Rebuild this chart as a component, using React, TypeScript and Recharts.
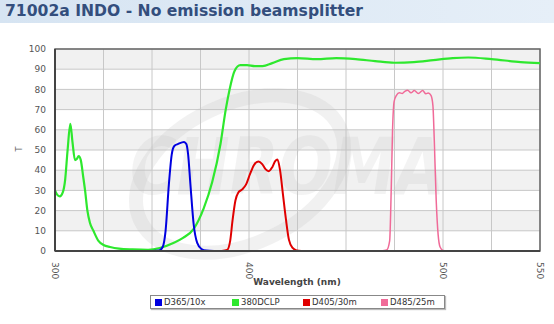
import React from "react";
import {
  LineChart,
  Line,
  XAxis,
  YAxis,
  CartesianGrid,
  ReferenceArea,
} from "recharts";

const TITLE = "71002a INDO - No emission beamsplitter";
const X_LABEL = "Wavelength (nm)";
const Y_LABEL = "T";
const WATERMARK = "CHROMA";

const xTicks = [300, 325, 350, 375, 400, 425, 450, 475, 500, 525, 550];
const xTickLabels = ["300", "400", "500", "550"];
const yTicks = [0, 10, 20, 30, 40, 50, 60, 70, 80, 90, 100];

const seriesNames = ["D365/10x", "380DCLP", "D405/30m", "D485/25m"];
const seriesColors = ["#0000e0", "#2ee82e", "#e00000", "#f06a98"];

// D365/10x
const blueWl = [350, 353.5, 355.5, 357, 358.7, 360.2, 361.5, 363.5, 366.5, 367.7, 368.6, 369.8, 371.5, 373.3, 375.5, 378, 382];
const blueT = [0, 0.2, 2, 10, 33, 48, 52, 53, 54, 53, 48, 33, 13, 4, 1, 0.2, 0];

// 380DCLP
const greenWl = [300, 301, 302.5, 304, 305.2, 306.5, 307.9, 309, 310.3, 311.2, 312.2, 313.3, 314.5, 315.5, 316.7, 318, 319.8, 322.4, 325, 328.4, 333, 340, 348, 354, 361, 366, 371.5, 376.6, 381, 385.3, 388, 390, 392.5, 395.5, 399, 403, 407, 412, 418, 425, 435, 445, 455, 465, 475, 485, 495, 505, 513, 525, 540, 550];
const greenT = [30, 28, 27, 29, 35, 50, 63, 54, 45, 45.5, 47, 45, 37, 30, 20, 14, 10, 5, 3, 2, 1.2, 0.8, 0.6, 1.5, 4, 6.5, 11, 21, 34, 53, 70, 80, 89, 92, 92, 91.5, 91.5, 93, 95, 95.5, 95, 95.5, 95, 94, 93.2, 93.5, 94.5, 95.5, 95.8, 95, 93.5, 93];

// D405/30m
const redWl = [386, 388.7, 390.3, 391.5, 393, 394.5, 396.5, 398.5, 400.5, 402.5, 404.8, 406.8, 408.5, 410.2, 412, 413.5, 414.7, 416, 417.5, 419, 420.6, 422.5, 424.5, 427];
const redT = [0, 0.5, 5, 15, 25, 29, 30.5, 33, 38, 42.5, 44.3, 43, 40.5, 39.5, 41.5, 44.5, 45.3, 40, 28, 16, 5.5, 1.5, 0.3, 0];

// D485/25m
const pinkWl = [468, 471, 472.5, 473.3, 474, 474.8, 476, 477.5, 479, 480.3, 481.8, 483.5, 485.2, 487.3, 489.5, 491.2, 492.4, 493.8, 494.8, 495.5, 496.5, 497.5, 498.5, 500, 502];
const pinkT = [0, 0.5, 5, 30, 60, 74, 77, 78.3, 78, 79, 79.6, 78.3, 79.4, 78, 79.4, 77.8, 78.2, 77, 72, 55, 25, 8, 2, 0.3, 0];

const toRows = (wl: number[], t: number[]) => wl.map((w, i) => ({ wl: w, t: t[i] }));

const blueData = toRows(blueWl, blueT);
const greenData = toRows(greenWl, greenT);
const redData = toRows(redWl, redT);
const pinkData = toRows(pinkWl, pinkT);

const FONT = "Verdana, 'DejaVu Sans', sans-serif";

const XTick = (props: any) => {
  const { x, y, payload } = props;
  const label = String(payload.value);
  if (!xTickLabels.includes(label)) return null;
  return (
    <text
      transform={`translate(${x},${y + 3}) rotate(90)`}
      textAnchor="start"
      dominantBaseline="central"
      fontSize={9}
      fill="#555"
      fontFamily={FONT}
    >
      {label}
    </text>
  );
};

const Watermark = (props: any) => {
  const vb = props.viewBox || {};
  const x0 = (vb.x ?? 55) + 75;
  const y0 = (vb.y ?? 49) + 145;
  return (
    <g pointerEvents="none">
      <ellipse
        cx={x0 + 110}
        cy={y0 - 20}
        rx={110}
        ry={70}
        transform={`rotate(-25 ${x0 + 110} ${y0 - 20})`}
        fill="none"
        stroke="rgba(190,190,190,0.22)"
        strokeWidth={14}
      />
      <text
        x={x0}
        y={y0}
        fontSize={78}
        fontStyle="italic"
        fontWeight="bold"
        fontFamily={FONT}
        fill="rgba(190,190,190,0.18)"
        textLength={315}
        lengthAdjust="spacingAndGlyphs"
      >
        {WATERMARK}
      </text>
    </g>
  );
};

const legendX = [155, 232, 303, 381];

export default function App() {
  return (
    <div
      style={{
        position: "absolute",
        left: 0,
        top: 0,
        width: 554,
        height: 324,
        background: "#fff",
        fontFamily: FONT,
        overflow: "hidden",
      }}
    >
      <LineChart
        width={554}
        height={324}
        margin={{ top: 49, right: 14, bottom: 43, left: 0 }}
      >
        <CartesianGrid
          stroke="#c8c8c8"
          strokeWidth={1}
          horizontalFill={["#f1f1f1", "#ffffff"]}
        />
        <XAxis
          type="number"
          dataKey="wl"
          domain={[300, 550]}
          ticks={xTicks}
          interval={0}
          allowDataOverflow
          tickLine={false}
          axisLine={{ stroke: "#444", strokeWidth: 2 }}
          tick={<XTick />}
          height={30}
        />
        <YAxis
          type="number"
          domain={[0, 100]}
          ticks={yTicks}
          interval={0}
          tickLine={false}
          axisLine={{ stroke: "#444", strokeWidth: 2 }}
          tick={{ fontSize: 9, fill: "#555", fontFamily: FONT }}
          tickMargin={3}
          width={55}
        />
        <ReferenceArea
          x1={300}
          x2={550}
          y1={0}
          y2={100}
          fill="none"
          stroke="#666"
          strokeWidth={1.5}
          ifOverflow="visible"
          label={<Watermark />}
        />
        <Line data={greenData} dataKey="t" type="monotone" stroke={seriesColors[1]} strokeWidth={2.2} dot={false} isAnimationActive={false} />
        <Line data={blueData} dataKey="t" type="monotone" stroke={seriesColors[0]} strokeWidth={2} dot={false} isAnimationActive={false} />
        <Line data={redData} dataKey="t" type="monotone" stroke={seriesColors[2]} strokeWidth={2} dot={false} isAnimationActive={false} />
        <Line data={pinkData} dataKey="t" type="monotone" stroke={seriesColors[3]} strokeWidth={1.5} dot={false} isAnimationActive={false} />
      </LineChart>

      <div
        style={{
          position: "absolute",
          left: 0,
          top: 0,
          width: 554,
          height: 23,
          background: "linear-gradient(to right, #d6e4f2, #e6eff8)",
        }}
      />
      <div
        style={{
          position: "absolute",
          left: 5,
          top: 2,
          fontSize: 15.6,
          fontWeight: "bold",
          color: "#334e7d",
          whiteSpace: "nowrap",
          lineHeight: "19px",
        }}
      >
        {TITLE}
      </div>

      <div
        style={{
          position: "absolute",
          left: 18,
          top: 144,
          fontSize: 8,
          color: "#666",
          transform: "rotate(-90deg)",
          lineHeight: "10px",
        }}
      >
        {Y_LABEL}
      </div>

      <div
        style={{
          position: "absolute",
          left: 197,
          width: 200,
          top: 276,
          textAlign: "center",
          fontSize: 9,
          fontWeight: "bold",
          color: "#444",
          lineHeight: "12px",
        }}
      >
        {X_LABEL}
      </div>

      <div
        style={{
          position: "absolute",
          left: 150,
          top: 295,
          width: 295,
          height: 14,
          border: "1px solid #888",
          boxShadow: "1px 1px 1px #bbb",
          background: "#fff",
          boxSizing: "border-box",
        }}
      />
      {seriesNames.map((name, i) => (
        <div
          key={name}
          style={{
            position: "absolute",
            left: legendX[i],
            top: 297,
            display: "flex",
            alignItems: "center",
            fontSize: 8.5,
            color: "#333",
            lineHeight: "10px",
            whiteSpace: "nowrap",
          }}
        >
          <span
            style={{
              display: "inline-block",
              width: 7,
              height: 7,
              background: seriesColors[i],
              marginRight: 2,
            }}
          />
          {name}
        </div>
      ))}
    </div>
  );
}
